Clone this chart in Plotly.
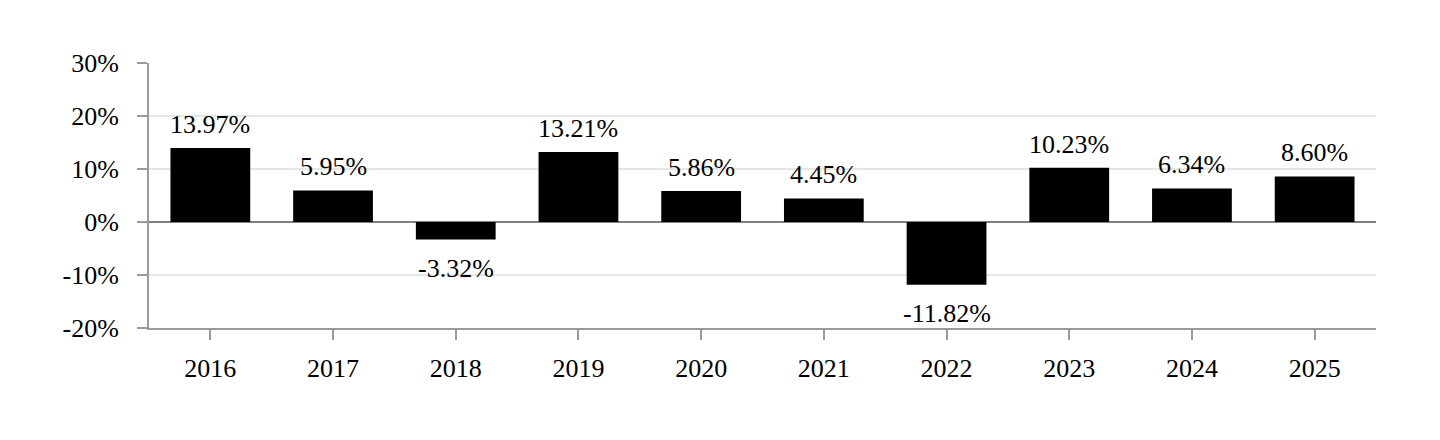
import plotly.graph_objects as go

years = ["2016", "2017", "2018", "2019", "2020", "2021", "2022", "2023", "2024", "2025"]
returns = [13.97, 5.95, -3.32, 13.21, 5.86, 4.45, -11.82, 10.23, 6.34, 8.60]
labels = ["13.97%", "5.95%", "-3.32%", "13.21%", "5.86%", "4.45%", "-11.82%", "10.23%", "6.34%", "8.60%"]
ytick_vals = [-20, -10, 0, 10, 20, 30]
ytick_text = ["-20%", "-10%", "0%", "10%", "20%", "30%"]

FONT = "Liberation Serif, Times New Roman, serif"
AXIS_GRAY = "#9a9a9a"

fig = go.Figure()
fig.add_trace(go.Bar(
    x=years, y=returns,
    marker=dict(color="#000000", line=dict(width=0)),
    hoverinfo="skip",
))

for i, (v, t) in enumerate(zip(returns, labels)):
    fig.add_annotation(
        x=i, y=v, text=t, showarrow=False,
        yanchor="bottom" if v >= 0 else "top",
        yshift=7 if v >= 0 else -12,
        font=dict(family=FONT, size=26, color="#000000"),
    )

fig.update_layout(
    width=1440, height=440,
    margin=dict(l=149, r=64, t=63, b=112),
    paper_bgcolor="#ffffff", plot_bgcolor="#ffffff",
    bargap=0.35,
    showlegend=False,
    font=dict(family=FONT, size=26, color="#000000"),
)
fig.update_xaxes(
    type="category", range=[-0.5, len(years) - 0.5],
    showline=True, linecolor=AXIS_GRAY, linewidth=2,
    ticks="outside", ticklen=10, tickwidth=2, tickcolor=AXIS_GRAY,
    showgrid=False, zeroline=False,
    tickfont=dict(family=FONT, size=26, color="#000000"),
    ticklabelstandoff=6,
)
fig.update_yaxes(
    range=[-20, 30],
    tickvals=ytick_vals, ticktext=ytick_text,
    showline=True, linecolor=AXIS_GRAY, linewidth=2,
    ticks="outside", ticklen=10, tickwidth=2, tickcolor=AXIS_GRAY,
    showgrid=True, gridcolor="#e6e6e6", gridwidth=2,
    zeroline=True, zerolinecolor="#808080", zerolinewidth=2,
    tickfont=dict(family=FONT, size=26, color="#000000"),
    ticklabelstandoff=13,
)

fig.write_html("out.html")
